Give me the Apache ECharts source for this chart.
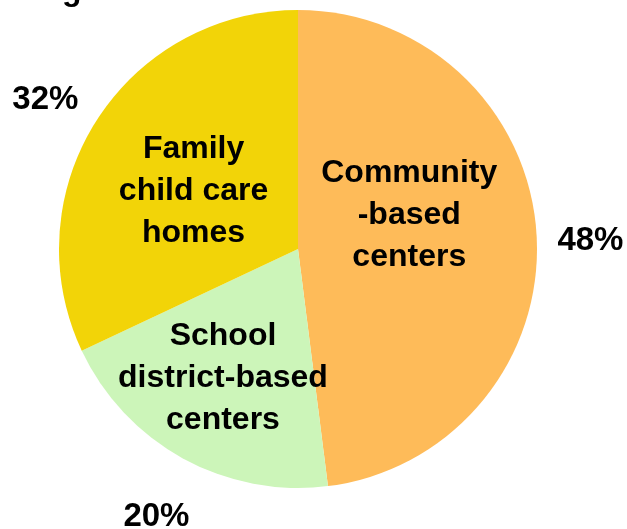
<!DOCTYPE html>
<html>
<head>
<meta charset="utf-8">
<script src="https://cdn.jsdelivr.net/npm/echarts@6/dist/echarts.min.js"></script>
<style>html,body{margin:0;padding:0;background:#fff;}#c{width:627px;height:529px;}</style>
</head>
<body>
<div id="c"></div>
<script>
const categories = ["Community\n-based\ncenters", "School\ndistrict-based\ncenters", "Family\nchild care\nhomes"];
const values = [48, 20, 32];
const colors = ["#FEBB59", "#CCF5B9", "#F2D408"];
const percentLabels = ["48%", "20%", "32%"];

const innerOffsets = [[-11, -26], [-16, 22], [-1, 8]];
const outerOffsets = [[-5, 11], [2, 7], [-1, 11]];
const font = '"Liberation Sans", Arial, Helvetica, sans-serif';

const chart = echarts.init(document.getElementById('c'), null, {renderer: 'canvas'});
chart.setOption({
  animation: false,
  backgroundColor: '#ffffff',
  graphic: [{
    type: 'text', left: 62, top: -25,
    style: {text: 'ge', font: 'bold 32px ' + font, fill: '#000'}
  }],
  series: [{
    type: 'pie',
    center: [298, 249],
    radius: [0, 239],
    startAngle: 90,
    clockwise: true,
    silent: true,
    label: {
      show: true, position: 'inside', rotate: 0,
      color: '#000', fontFamily: font, fontWeight: 'bold', fontSize: 32, lineHeight: 42,
      formatter: p => p.name
    },
    labelLine: {show: false},
    data: categories.map((c, i) => ({
      name: c, value: values[i],
      itemStyle: {color: colors[i]},
      label: {offset: innerOffsets[i]}
    }))
  }, {
    type: 'pie',
    center: [298, 249],
    radius: [285, 305],
    startAngle: 90,
    clockwise: true,
    silent: true,
    itemStyle: {color: 'rgba(0,0,0,0)'},
    label: {
      show: true, position: 'inside', rotate: 0,
      color: '#000', fontFamily: font, fontWeight: 'bold', fontSize: 33,
      formatter: p => percentLabels[p.dataIndex]
    },
    labelLine: {show: false},
    data: categories.map((c, i) => ({name: c, value: values[i], label: {offset: outerOffsets[i]}}))
  }]
});
</script>
</body>
</html>
